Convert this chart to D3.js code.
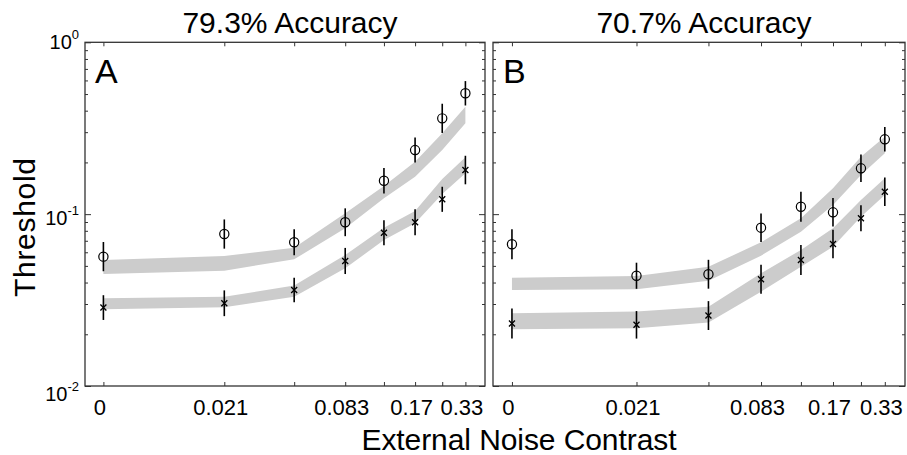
<!DOCTYPE html>
<html><head><meta charset="utf-8">
<script src="https://cdn.jsdelivr.net/npm/d3@7"></script>
<style>
body{margin:0;background:#fff}
svg{display:block}
text{font-family:"Liberation Sans",Arial,Helvetica,sans-serif;fill:#000}
</style>
</head><body>
<svg id="c" width="907" height="455"></svg>
<script>
// ---- data ----
const contrasts = [0, 0.021, 0.042, 0.083, 0.12, 0.17, 0.25, 0.33];
const xTickLabels = ["0", "0.021", "", "0.083", "", "0.17", "", "0.33"];
const yTickValues = [0.01, 0.1, 1];
const yTickExponents = ["-2", "-1", "0"];
const panelLetters = ["A", "B"];
const panelTitles = ["79.3% Accuracy", "70.7% Accuracy"];

// Panel A (79.3%)
const aCircle    = [0.0566, 0.0766, 0.0686, 0.0897, 0.1565, 0.236, 0.361, 0.505];
const aCircleErr = [0.085, 0.085, 0.076, 0.081, 0.074, 0.073, 0.085, 0.071];
const aCross     = [0.0286, 0.0303, 0.0362, 0.0534, 0.078, 0.0897, 0.122, 0.1806];
const aCrossErr  = [0.072, 0.075, 0.071, 0.076, 0.073, 0.076, 0.073, 0.083];
const aUpperTop  = [0.0541, 0.0571, 0.0638, 0.1011, 0.1458, 0.2019, 0.2954, 0.4219];
const aUpperBot  = [0.0448, 0.0469, 0.0546, 0.0827, 0.1237, 0.1652, 0.236, 0.3378];
const aLowerTop  = [0.0324, 0.0331, 0.0384, 0.0579, 0.0834, 0.1043, 0.1602, 0.2142];
const aLowerBot  = [0.02795, 0.0287, 0.0331, 0.0484, 0.0707, 0.0885, 0.131, 0.1729];

// Panel B (70.7%)
const bCircle    = [0.0668, 0.0438, 0.0447, 0.0834, 0.1105, 0.1025, 0.1848, 0.2726];
const bCircleErr = [0.087, 0.076, 0.084, 0.083, 0.087, 0.083, 0.080, 0.071];
const bCross     = [0.0231, 0.0227, 0.0257, 0.0418, 0.0541, 0.0671, 0.0946, 0.1351];
const bCrossErr  = [0.087, 0.080, 0.084, 0.084, 0.087, 0.083, 0.076, 0.083];
const bUpperTop  = [0.0427, 0.0437, 0.0494, 0.0686, 0.0946, 0.1414, 0.2159, 0.2822];
const bUpperBot  = [0.0362, 0.0365, 0.0410, 0.0573, 0.0791, 0.1130, 0.169, 0.226];
const bLowerTop  = [0.0265, 0.0271, 0.0289, 0.0453, 0.0619, 0.0827, 0.1209, 0.1617];
const bLowerBot  = [0.0214, 0.0217, 0.0234, 0.0354, 0.0494, 0.0646, 0.0966, 0.1293];

const panelData = [
  {circle:aCircle, circleErr:aCircleErr, cross:aCross, crossErr:aCrossErr,
   bands:[[aUpperTop,aUpperBot],[aLowerTop,aLowerBot]]},
  {circle:bCircle, circleErr:bCircleErr, cross:bCross, crossErr:bCrossErr,
   bands:[[bUpperTop,bUpperBot],[bLowerTop,bLowerBot]]}
];

// ---- layout ----
const plotTop = 42.3, plotBottom = 386;
const boxes = [{l:85, r:485}, {l:493, r:905}];
// relative spacing of the (non-uniform) x axis
const axisFrac = [0, 0.334, 0.527, 0.668, 0.775, 0.861, 0.936, 1];
const FONT = '"Liberation Sans",Arial,Helvetica,sans-serif';

const svg = d3.select("#c");
const y = d3.scaleLog().domain([0.01, 1]).range([plotBottom, plotTop]);
const minorTicks = y.ticks().filter(v => !yTickValues.some(m => Math.abs(m - v) < 1e-9));

function cleanAxis(g){
  g.select(".domain").remove();
  g.selectAll(".tick line").attr("stroke","#333").attr("stroke-width",1);
  g.attr("font-family", FONT);
}

boxes.forEach((box, i) => {
  const pd = panelData[i];
  const w = box.r - box.l;
  const x0 = box.l + 0.046 * w, x1 = box.l + 0.951 * w;
  const x = d3.scaleLinear().domain(contrasts).range(axisFrac.map(f => x0 + f * (x1 - x0)));
  const g = svg.append("g");

  // model bands
  const area = d3.area()
    .x((d, j) => x(contrasts[j]))
    .y0(d => y(d[1]))
    .y1(d => y(d[0]));
  pd.bands.forEach(([hi, lo]) => {
    g.append("path")
      .datum(hi.map((v, j) => [v, lo[j]]))
      .attr("d", area)
      .attr("fill", "#cccccc");
  });

  // error bars
  const errG = g.append("g").attr("stroke", "#000").attr("stroke-width", 1.6);
  [[pd.circle, pd.circleErr], [pd.cross, pd.crossErr]].forEach(([vals, errs]) => {
    errG.selectAll(null).data(vals).enter().append("line")
      .attr("x1", (d, j) => x(contrasts[j]))
      .attr("x2", (d, j) => x(contrasts[j]))
      .attr("y1", (d, j) => y(d * Math.pow(10, errs[j])))
      .attr("y2", (d, j) => y(d / Math.pow(10, errs[j])));
  });

  // circles
  g.selectAll(null).data(pd.circle).enter().append("circle")
    .attr("cx", (d, j) => x(contrasts[j]))
    .attr("cy", d => y(d))
    .attr("r", 4.6)
    .attr("fill", "none")
    .attr("stroke", "#000")
    .attr("stroke-width", 1.2);

  // crosses
  g.selectAll(null).data(pd.cross).enter().append("path")
    .attr("transform", (d, j) => `translate(${x(contrasts[j])},${y(d)})`)
    .attr("d", "M-3,-3L3,3M-3,3L3,-3")
    .attr("fill", "none")
    .attr("stroke", "#000")
    .attr("stroke-width", 1.3);

  // axes ticks (inward on all sides)
  g.append("g").attr("transform", `translate(${box.l},0)`)
    .call(d3.axisLeft(y).tickValues(yTickValues).tickSize(-6).tickFormat("")).call(cleanAxis);
  g.append("g").attr("transform", `translate(${box.l},0)`)
    .call(d3.axisLeft(y).tickValues(minorTicks).tickSize(-3).tickFormat("")).call(cleanAxis);
  g.append("g").attr("transform", `translate(${box.r},0)`)
    .call(d3.axisRight(y).tickValues(yTickValues).tickSize(-6).tickFormat("")).call(cleanAxis);
  g.append("g").attr("transform", `translate(${box.r},0)`)
    .call(d3.axisRight(y).tickValues(minorTicks).tickSize(-3).tickFormat("")).call(cleanAxis);
  g.append("g").attr("transform", `translate(0,${plotTop})`)
    .call(d3.axisTop(x).tickValues(contrasts).tickSize(-4).tickFormat("")).call(cleanAxis);
  const xb = g.append("g").attr("transform", `translate(0,${plotBottom})`)
    .call(d3.axisBottom(x).tickValues(contrasts).tickSize(-4).tickPadding(13)
      .tickFormat((d, j) => xTickLabels[j]))
    .call(cleanAxis);
  xb.selectAll(".tick text").attr("font-size", 22).attr("dx", -4).attr("fill", "#000");

  // frame
  g.append("rect")
    .attr("x", box.l).attr("y", plotTop)
    .attr("width", w).attr("height", plotBottom - plotTop)
    .attr("fill", "none").attr("stroke", "#333").attr("stroke-width", 1.3);

  // panel letter
  g.append("text").attr("x", box.l + 10).attr("y", 83)
    .attr("font-size", 34).text(panelLetters[i]);

  // title
  g.append("text").attr("x", (box.l + box.r) / 2 + 5).attr("y", 33)
    .attr("text-anchor", "middle").attr("font-size", 30).text(panelTitles[i]);

  // y tick labels (left panel only)
  if (i === 0) {
    yTickValues.forEach((v, k) => {
      const t = g.append("text")
        .attr("x", box.l - 6)
        .attr("y", y(v) + 7 + 4 * (-Math.log10(v)))
        .attr("text-anchor", "end")
        .attr("font-size", 20);
      t.append("tspan").text("10");
      t.append("tspan").attr("font-size", 13).attr("dy", -10).text(yTickExponents[k]);
    });
  }
});

// axis titles
svg.append("text")
  .attr("x", 519).attr("y", 450)
  .attr("text-anchor", "middle")
  .attr("font-size", 30)
  .attr("textLength", 315).attr("lengthAdjust", "spacing")
  .text("External Noise Contrast");

svg.append("text")
  .attr("transform", "translate(35,227.5) rotate(-90)")
  .attr("text-anchor", "middle")
  .attr("font-size", 30)
  .attr("textLength", 139).attr("lengthAdjust", "spacing")
  .text("Threshold");
</script>
</body></html>
